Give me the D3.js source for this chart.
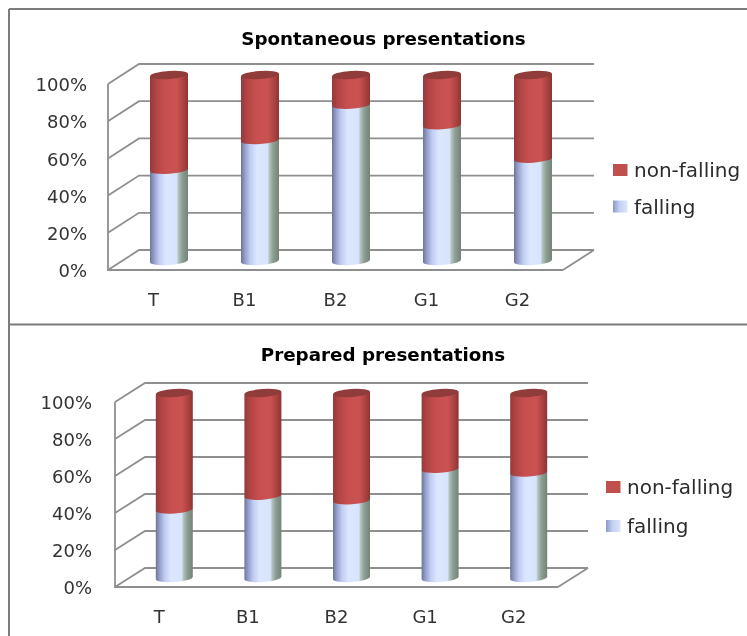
<!DOCTYPE html>
<html>
<head>
<meta charset="utf-8">
<script src="https://d3js.org/d3.v7.min.js"></script>
<style>
    body { margin: 0; background: #fff; overflow: hidden; }
    svg { filter: blur(0.35px); }
    text { font-family: "DejaVu Sans", sans-serif; fill: #333; }
    .axis text { font-size: 18px; fill: #333; }
    .title { font-size: 18.3px; font-weight: bold; fill: #000; }
    .legend-label { font-size: 20px; fill: #2b2b2b; }
    .grid { stroke: #8f8f8f; stroke-width: 1.8; fill: none; }
    .frame { stroke: #7c7c7c; stroke-width: 2; }
</style>
</head>
<body>
<div id="chart"></div>
<script>

// values
const categories = ["T", "B1", "B2", "G1", "G2"];
const spontaneousFalling = [49, 65, 84, 73, 55];
const preparedFalling = [37, 44.5, 42, 59, 57];
const yTicks = [0, 20, 40, 60, 80, 100];
const seriesNames = ["non-falling", "falling"];

const svg = d3.select("#chart").append("svg")
    .attr("width", 747)
    .attr("height", 636);

// cylinder shading
function addGradient(id, stops) {
    let grad = svg.append("defs").append("linearGradient")
        .attr("id", id)
        .attr("x1", "0%").attr("x2", "100%")
        .attr("y1", "0%").attr("y2", "0%");
    stops.forEach(s => {
        grad.append("stop").attr("offset", s[0]).attr("stop-color", s[1]);
    });
}

addGradient("blueBar", [["0%", "#6c7599"], ["10%", "#939dc8"], ["24%", "#c0ccf2"], ["42%", "#dce7ff"], ["70%", "#d6e4fb"], ["75%", "#b3c1bf"], ["85%", "#8c9d92"], ["100%", "#738476"]]);
addGradient("redBar", [["0%", "#96393a"], ["15%", "#b04444"], ["40%", "#c84f4f"], ["70%", "#ca5352"], ["88%", "#aa4240"], ["100%", "#8c3533"]]);
addGradient("blueSwatch", [["0%", "#8c97cc"], ["45%", "#c4d0f4"], ["100%", "#dce6fb"]]);

class CylinderChart {

    constructor(falling, title, box) {
        this.falling = falling;
        this.title = title;
        this.box = box;
        this.initVis();
    }

    initVis() {
        let vis = this;
        let b = vis.box;

        vis.g = svg.append("g");

        vis.x = d3.scaleBand().domain(categories).range([b.left, b.right]);
        vis.y = d3.scaleLinear().domain([0, 100]).range([b.floor, b.top]);

        // walls and floor
        yTicks.forEach(t => {
            let y0 = vis.y(t);
            vis.g.append("path")
                .attr("class", "grid")
                .attr("d", d3.line()([[b.left, y0], [b.left + b.dx, y0 - b.dy], [b.right + b.dx, y0 - b.dy]]));
        });
        vis.g.append("path")
            .attr("class", "grid")
            .attr("d", d3.line()([[b.right, b.floor], [b.right + b.dx, b.floor - b.dy]]));

        // axes
        let yAxis = d3.axisLeft(vis.y)
            .tickValues(yTicks)
            .tickSize(0)
            .tickPadding(b.yPad)
            .tickFormat(d => d + "%");
        let xAxis = d3.axisBottom(vis.x)
            .tickSize(0)
            .tickPadding(23);

        vis.g.append("g")
            .attr("class", "axis")
            .attr("transform", "translate(" + b.left + ",1)")
            .call(yAxis)
            .call(g => g.select(".domain").remove());
        vis.g.append("g")
            .attr("class", "axis")
            .attr("transform", "translate(0," + b.floor + ")")
            .call(xAxis)
            .call(g => g.select(".domain").remove());

        vis.g.append("path")
            .attr("class", "grid")
            .attr("d", d3.line()([[b.left, b.top], [b.left, b.floor], [b.right, b.floor]]));

        vis.g.append("text")
            .attr("class", "title")
            .attr("x", b.titleX)
            .attr("y", b.titleY)
            .attr("text-anchor", "middle")
            .text(vis.title);

        vis.updateVis();
        vis.drawLegend();
    }

    // one piece of a cylinder, lower edge bulges towards the viewer
    sidePath(cx, yTop, yBottom) {
        let b = this.box;
        return "M" + (cx - b.rx) + "," + (yTop + b.tilt)
            + "L" + (cx - b.rx) + "," + (yBottom + b.tilt)
            + "A" + b.rx + "," + b.ry + " -4 0 0 " + (cx + b.rx) + "," + (yBottom - b.tilt)
            + "L" + (cx + b.rx) + "," + (yTop - b.tilt) + "Z";
    }

    updateVis() {
        let vis = this;
        let b = vis.box;
        let cx = (d, i) => vis.x(categories[i]) + vis.x.bandwidth() / 2 + b.dx / 2;
        let barY = v => vis.y(v) - b.lift;

        vis.g.selectAll("path.falling")
            .data(vis.falling)
            .enter()
            .append("path")
            .attr("class", "falling")
            .attr("fill", "url(#blueBar)")
            .attr("d", (d, i) => vis.sidePath(cx(d, i), barY(d), barY(0)));

        vis.g.selectAll("path.non-falling")
            .data(vis.falling)
            .enter()
            .append("path")
            .attr("class", "non-falling")
            .attr("fill", "url(#redBar)")
            .attr("d", (d, i) => vis.sidePath(cx(d, i), barY(100), barY(d)));

        vis.g.selectAll("ellipse.cap")
            .data(vis.falling)
            .enter()
            .append("ellipse")
            .attr("class", "cap")
            .attr("rx", b.rx)
            .attr("ry", b.ry)
            .attr("fill", "#8f3c3a")
            .attr("transform", (d, i) => "translate(" + cx(d, i) + "," + barY(100) + ") rotate(-4)");
    }

    drawLegend() {
        let vis = this;
        let b = vis.box;

        let items = vis.g.selectAll("g.legend")
            .data(seriesNames)
            .enter()
            .append("g")
            .attr("class", "legend")
            .attr("transform", (d, i) => "translate(" + b.legendX + "," + (b.legendY + i * b.legendStep) + ")");

        items.append("rect")
            .attr("width", 14.5)
            .attr("height", 12)
            .attr("fill", (d, i) => i === 0 ? "#c0504d" : "url(#blueSwatch)");

        items.append("text")
            .attr("class", "legend-label")
            .attr("x", 21)
            .attr("y", 13)
            .text(d => d);
    }
}

// panel frame
[[9, 9, 747, 9], [9, 9, 9, 636], [9, 324.5, 747, 324.5]].forEach(l => {
    svg.append("line")
        .attr("class", "frame")
        .attr("x1", l[0]).attr("y1", l[1])
        .attr("x2", l[2]).attr("y2", l[3]);
});

new CylinderChart(spontaneousFalling, "Spontaneous presentations", {
    left: 108, right: 563, floor: 270, top: 84, dx: 31, dy: 20, lift: 9,
    rx: 19, ry: 4, tilt: 1.3, yPad: 21,
    titleX: 383.5, titleY: 45,
    legendX: 613, legendY: 164, legendStep: 36.5
});

new CylinderChart(preparedFalling, "Prepared presentations", {
    left: 115, right: 558, floor: 587, top: 402, dx: 30, dy: 19, lift: 9,
    rx: 18.5, ry: 4, tilt: 1.3, yPad: 23,
    titleX: 383, titleY: 361,
    legendX: 606, legendY: 481, legendStep: 39
});

</script>
</body>
</html>
